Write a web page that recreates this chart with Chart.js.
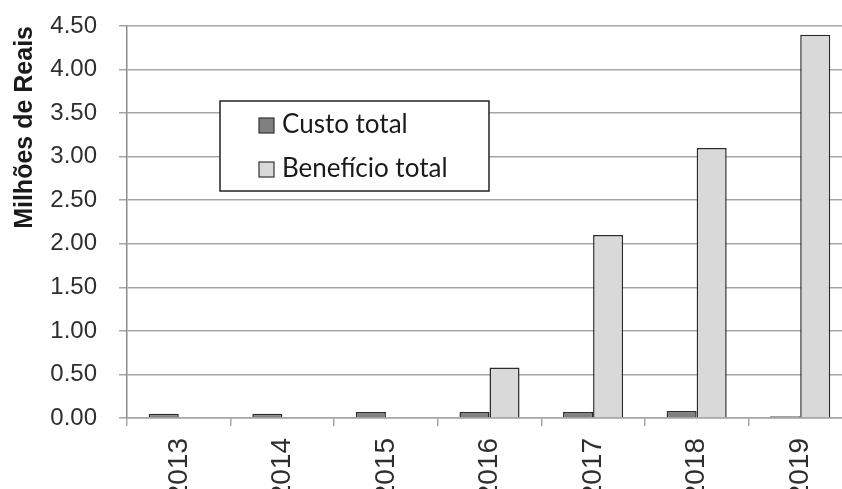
<!DOCTYPE html>
<html lang="pt-BR">
<head>
<meta charset="utf-8">
<title>Custo e benefício total</title>
<script src="https://cdn.jsdelivr.net/npm/chart.js@4.4.1/dist/chart.umd.min.js"></script>
<style>
  html, body { margin: 0; padding: 0; background: #fff; overflow: hidden; }
  #wrap { position: relative; width: 852px; height: 520px; }
</style>
</head>
<body>
<div id="wrap"><canvas id="grafico"></canvas></div>
<script>
// Dados (milhões de reais)
const anos = ['2013', '2014', '2015', '2016', '2017', '2018', '2019'];
const custoTotal = [0.05, 0.05, 0.07, 0.07, 0.07, 0.08, 0.02];
const beneficioTotal = [null, null, null, 0.58, 2.10, 3.10, 4.40];
const ticksY = [0, 0.5, 1.0, 1.5, 2.0, 2.5, 3.0, 3.5, 4.0, 4.5];

const corGrade = '#a6a6a6';
const corTexto = '#2e2e2e';

// Legenda em caixa dentro da área do gráfico
const legendaCaixa = {
  id: 'legendaCaixa',
  afterDraw(chart) {
    const ctx = chart.ctx;
    const x = 220, y = 101, w = 269, h = 90;
    ctx.save();
    ctx.fillStyle = '#fff';
    ctx.fillRect(x, y, w, h);
    ctx.strokeStyle = '#222';
    ctx.lineWidth = 1.5;
    ctx.strokeRect(x, y, w, h);
    ctx.font = '26px Lato';
    ctx.textBaseline = 'alphabetic';
    chart.data.datasets.forEach((ds, i) => {
      const sy = 118 + i * 44;
      ctx.fillStyle = ds.backgroundColor;
      ctx.fillRect(259, sy, 15, 15);
      ctx.lineWidth = 1.2;
      ctx.strokeStyle = '#333';
      ctx.strokeRect(259, sy, 15, 15);
      ctx.fillStyle = '#1a1a1a';
      ctx.fillText(ds.label, 282, sy + 15);
    });
    ctx.restore();
  }
};

const ctx = document.getElementById('grafico').getContext('2d');

new Chart(ctx, {
  type: 'bar',
  data: {
    labels: anos,
    datasets: [
      {
        label: 'Custo total',
        data: custoTotal,
        backgroundColor: '#808080',
        borderColor: '#2b2b2b',
        borderWidth: 1.5
      },
      {
        label: 'Benefício total',
        data: beneficioTotal,
        backgroundColor: '#d9d9d9',
        borderColor: '#2b2b2b',
        borderWidth: 1.5
      }
    ]
  },
  options: {
    responsive: true,
    maintainAspectRatio: false,
    animation: false,
    datasets: {
      bar: { categoryPercentage: 0.58, barPercentage: 1.0 }
    },
    layout: { padding: { top: 26, right: 0, left: 0, bottom: 0 } },
    scales: {
      x: {
        grid: {
          offset: true,
          drawOnChartArea: false,
          tickLength: 8,
          color: corGrade,
          lineWidth: 1.5
        },
        border: { color: corGrade, width: 1.5 },
        ticks: {
          autoSkip: false,
          minRotation: 90,
          maxRotation: 90,
          padding: 12,
          color: corTexto,
          font: { family: 'Liberation Sans', size: 28 }
        },
        afterFit(scale) { scale.height = 520 - 418; }
      },
      y: {
        min: 0,
        max: 4.5,
        afterBuildTicks(scale) {
          scale.ticks = ticksY.map(v => ({ value: v }));
        },
        grid: {
          color: corGrade,
          lineWidth: 1.5,
          tickLength: 8
        },
        border: { color: '#8c8c8c', width: 1.5 },
        ticks: {
          padding: 22,
          color: corTexto,
          font: { family: 'Liberation Sans', size: 24 },
          callback: v => Number(v).toFixed(2)
        },
        title: {
          display: true,
          text: 'Milhões de Reais',
          align: 'end',
          color: '#1a1a1a',
          padding: { top: 10, bottom: 0 },
          font: { family: 'Liberation Sans', size: 25, weight: 'bold' }
        },
        afterFit(scale) {
          scale.width = 127;
          scale.paddingTop = 0;
          scale.paddingBottom = 0;
        }
      }
    },
    plugins: {
      legend: { display: false },
      tooltip: { enabled: false }
    }
  },
  plugins: [legendaCaixa]
});
</script>
</body>
</html>
